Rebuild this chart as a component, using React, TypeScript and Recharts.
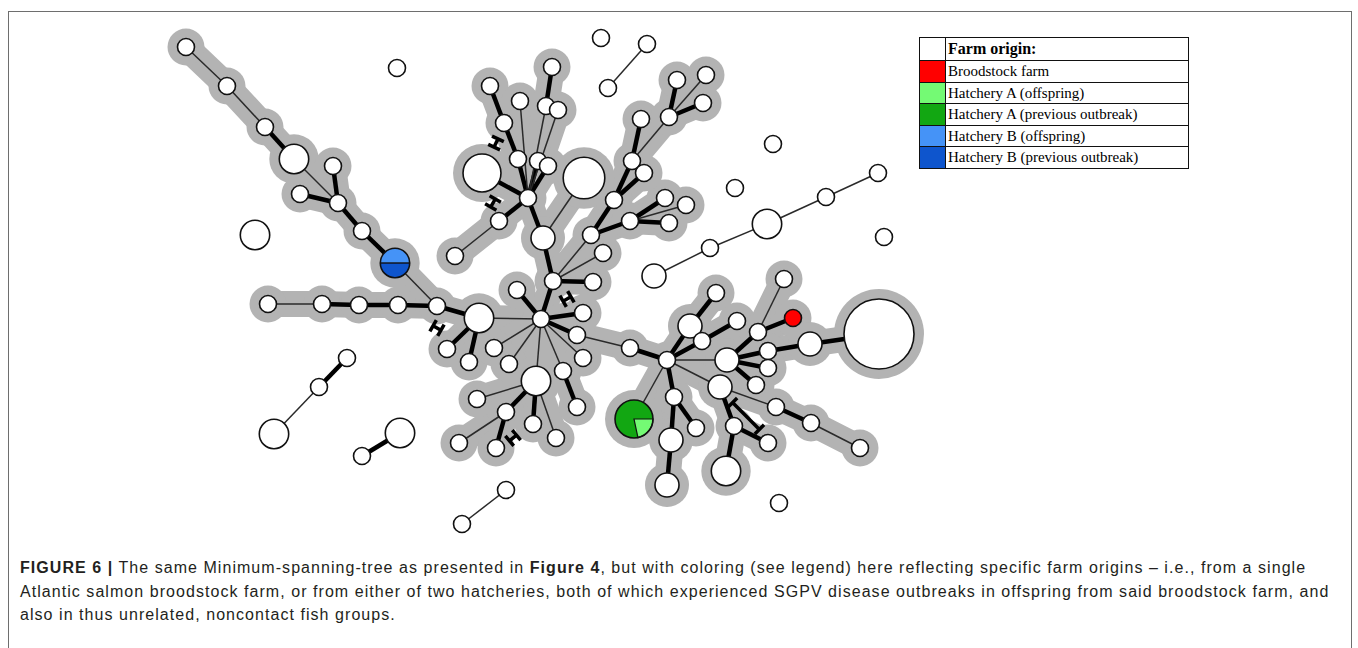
import React from "react";
import { ScatterChart, Scatter, XAxis, YAxis, ZAxis, Legend } from "recharts";

// node = [id, x, y, size (isolates), origin]
type NodeRow = [string, number, number, number, string?];

const treeNodes: NodeRow[] = [
  ["t1", 186, 47, 1], ["t2", 227, 86, 1], ["t3", 265, 127, 1], ["t4", 294, 159, 3],
  ["t5", 300, 194, 1], ["t6", 333, 166, 1], ["t7", 338, 203, 1], ["t8", 362, 231, 1],
  ["blue", 395, 263, 3, "hatchB"],
  ["l1", 268, 304, 1], ["l2", 322, 304, 1], ["l3", 359, 305, 1], ["l4", 398, 305, 1],
  ["l5", 437, 306, 1], ["l6", 479, 318, 3], ["l7", 447, 349, 1], ["l8", 469, 362, 1],
  ["h", 541, 319, 1],
  ["c1", 517, 290, 1], ["c2", 553, 281, 1], ["c3", 593, 282, 1], ["c4", 583, 313, 1],
  ["c5", 577, 335, 1], ["c6", 583, 358, 1], ["c7", 563, 371, 1], ["c8", 494, 348, 1],
  ["c9", 509, 364, 1], ["c10", 630, 348, 1],
  ["d1", 536, 381, 3], ["d2", 477, 399, 1], ["d3", 506, 412, 1], ["d4", 459, 443, 1],
  ["d5", 496, 448, 1], ["d6", 533, 424, 1], ["d7", 556, 438, 1], ["d8", 577, 407, 1],
  ["u1", 543, 238, 2], ["u2", 528, 198, 1], ["u3", 499, 221, 1], ["u4", 455, 256, 1],
  ["u5", 482, 173, 5], ["u6", 584, 178, 6], ["u7", 518, 159, 1], ["u8", 538, 161, 1],
  ["u9", 548, 166, 1], ["u10", 504, 123, 1], ["u11", 490, 86, 1], ["u12", 520, 101, 1],
  ["u13", 546, 106, 1], ["u14", 558, 110, 1], ["u15", 552, 67, 1],
  ["v1", 591, 235, 1], ["v2", 603, 253, 1], ["v3", 614, 200, 1], ["v4", 630, 221, 1],
  ["v5", 665, 198, 1], ["v6", 686, 205, 1], ["v7", 669, 223, 1], ["v8", 632, 161, 1],
  ["v9", 644, 173, 1], ["v10", 641, 119, 1], ["v11", 669, 117, 1], ["v12", 677, 80, 1],
  ["v13", 706, 75, 1], ["v14", 703, 103, 1],
  ["r0", 667, 360, 1], ["r1", 690, 326, 2], ["r2", 702, 341, 1], ["r3", 716, 293, 1],
  ["r4", 737, 321, 1], ["r5", 727, 360, 2], ["r6", 758, 332, 1], ["r7", 793, 318, 1, "brood"],
  ["r8", 784, 279, 1], ["r9", 768, 351, 1], ["r10", 810, 344, 2], ["r11", 879, 334, 17],
  ["r12", 768, 368, 1], ["r13", 756, 385, 1], ["r14", 720, 387, 2], ["r15", 776, 407, 1],
  ["r16", 811, 423, 1], ["r17", 860, 448, 1], ["r18", 734, 426, 1], ["r19", 768, 443, 1],
  ["r20", 726, 471, 3], ["r21", 674, 397, 1], ["r22", 671, 440, 2], ["r23", 667, 485, 2],
  ["r24", 696, 428, 1], ["green", 634, 419, 5, "hatchA"],
];

const looseNodes: NodeRow[] = [
  ["s1", 608, 88, 1], ["s2", 647, 44, 1], ["s3", 654, 276, 2], ["s4", 710, 248, 1],
  ["s5", 767, 224, 3], ["s6", 826, 197, 1], ["s7", 878, 173, 1], ["s8", 347, 358, 1],
  ["s9", 319, 387, 1], ["s10", 274, 434, 3], ["s11", 400, 433, 3], ["s12", 362, 456, 1],
  ["s13", 506, 490, 1], ["s14", 462, 524, 1],
  ["o1", 397, 68, 1], ["o2", 255, 235, 3], ["o3", 601, 38, 1], ["o4", 773, 144, 1],
  ["o5", 735, 188, 1], ["o6", 884, 237, 1], ["o7", 779, 503, 1],
];

// edge = [from, to, "t" short/thick | "n" long/thin]
const treeEdges: [string, string, string][] = [
  ["t1", "t2", "n"], ["t2", "t3", "n"], ["t3", "t4", "t"], ["t4", "t7", "n"], ["t7", "t5", "t"],
  ["t7", "t6", "t"], ["t7", "t8", "t"], ["t8", "blue", "t"], ["blue", "l5", "n"],
  ["l1", "l2", "n"], ["l2", "l3", "t"], ["l3", "l4", "t"], ["l4", "l5", "t"], ["l5", "l6", "t"],
  ["l6", "l7", "t"], ["l6", "l8", "t"], ["l6", "h", "n"],
  ["h", "c1", "t"], ["h", "c2", "t"], ["c2", "c3", "t"], ["h", "c4", "t"], ["h", "c5", "t"],
  ["c5", "c10", "n"], ["h", "c6", "n"], ["h", "c7", "n"], ["h", "c8", "n"], ["h", "c9", "n"],
  ["h", "d1", "n"],
  ["d1", "d2", "n"], ["d1", "d3", "t"], ["d3", "d4", "n"], ["d3", "d5", "t"], ["d1", "d6", "t"],
  ["d1", "d7", "n"], ["c7", "d8", "t"],
  ["c2", "u1", "t"], ["u1", "u2", "t"], ["u1", "u6", "n"], ["u2", "u3", "t"], ["u3", "u4", "n"],
  ["u2", "u5", "t"], ["u2", "u7", "t"], ["u2", "u8", "t"], ["u2", "u9", "t"], ["u7", "u10", "t"],
  ["u10", "u11", "t"], ["u2", "u12", "n"], ["u2", "u13", "n"], ["u2", "u14", "n"], ["u13", "u15", "t"],
  ["c2", "v1", "n"], ["c2", "v2", "n"], ["v1", "v3", "t"], ["v1", "v4", "t"], ["v4", "v5", "t"],
  ["v4", "v6", "n"], ["v4", "v7", "t"], ["v3", "v8", "t"], ["v3", "v9", "t"], ["v8", "v10", "t"],
  ["v8", "v11", "n"], ["v11", "v12", "t"], ["v11", "v13", "n"], ["v11", "v14", "t"],
  ["c10", "r0", "t"], ["r0", "r1", "t"], ["r0", "r2", "t"], ["r1", "r3", "t"], ["r2", "r4", "t"],
  ["r0", "r5", "n"], ["r5", "r6", "t"], ["r6", "r7", "t"], ["r6", "r8", "n"], ["r5", "r9", "t"],
  ["r9", "r10", "t"], ["r10", "r11", "t"], ["r5", "r12", "t"], ["r5", "r13", "t"], ["r0", "r14", "n"],
  ["r14", "r15", "n"], ["r15", "r16", "t"], ["r16", "r17", "n"], ["r14", "r18", "t"],
  ["r18", "r19", "t"], ["r18", "r20", "t"], ["r0", "r21", "t"], ["r21", "r22", "t"],
  ["r22", "r23", "t"], ["r21", "r24", "t"], ["r0", "green", "n"],
];

const looseEdges: [string, string, string][] = [
  ["s1", "s2", "n"], ["s3", "s4", "n"], ["s4", "s5", "n"], ["s5", "s6", "n"], ["s6", "s7", "n"],
  ["s8", "s9", "t"], ["s9", "s10", "n"], ["s11", "s12", "t"], ["s13", "s14", "n"],
];

// hatch marks for shortened branches: [x, y, angle, length]
const hatchMarks: [number, number, number, number][] = [
  [496, 143, -65, 9], [493, 203, -60, 9], [567, 299, -30, 9],
  [437, 328, 30, 9], [513, 438, -40, 9], [746, 416, 45, 38],
];

const legendItems = [
  { label: "Broodstock farm", color: "#ff0000" },
  { label: "Hatchery A (offspring)", color: "#74fa74" },
  { label: "Hatchery A (previous outbreak)", color: "#12a712" },
  { label: "Hatchery B (offspring)", color: "#4593f7" },
  { label: "Hatchery B (previous outbreak)", color: "#0e55cd" },
];

const captionLines = [
  [
    ["FIGURE 6 |", true],
    [" The same Minimum-spanning-tree as presented in ", false],
    ["Figure 4", true],
    [", but with coloring (see legend) here reflecting specific farm origins \u2013 i.e., from a single", false],
  ],
  [["Atlantic salmon broodstock farm, or from either of two hatcheries, both of which experienced SGPV disease outbreaks in offspring from said broodstock farm, and", false]],
  [["also in thus unrelated, noncontact fish groups.", false]],
] as [string, boolean][][];

const HALO = "#b3b3b3";

const toPoint = (n: NodeRow) => ({ id: n[0], x: n[1], y: n[2], z: n[3], origin: n[4] });
const treePoints = treeNodes.map(toPoint);
const loosePoints = looseNodes.map(toPoint);
const allPoints = [...treePoints, ...loosePoints];
const byId: Record<string, { x: number; y: number }> = {};
allPoints.forEach((p) => (byId[p.id] = p));

const edgeData = (e: [string, string, string]) => [
  { x: byId[e[0]].x, y: byId[e[0]].y },
  { x: byId[e[1]].x, y: byId[e[1]].y },
];

const Empty = () => <g />;

const NodeShape = (props: any) => {
  const { cx, cy, width, payload } = props;
  const r = width / 2;
  if (payload.origin === "hatchB") {
    return (
      <g>
        <path d={`M${cx - r},${cy} A${r},${r} 0 0 1 ${cx + r},${cy} Z`} fill="#4593f7" />
        <path d={`M${cx - r},${cy} A${r},${r} 0 0 0 ${cx + r},${cy} Z`} fill="#0e55cd" />
        <line x1={cx - r} y1={cy} x2={cx + r} y2={cy} stroke="#111" strokeWidth={1.4} />
        <circle cx={cx} cy={cy} r={r} fill="none" stroke="#111" strokeWidth={1.6} />
      </g>
    );
  }
  if (payload.origin === "hatchA") {
    const a = (78 * Math.PI) / 180;
    const ex = cx + r * Math.cos(a);
    const ey = cy + r * Math.sin(a);
    return (
      <g>
        <circle cx={cx} cy={cy} r={r} fill="#12a712" />
        <path d={`M${cx},${cy} L${cx + r},${cy} A${r},${r} 0 0 1 ${ex},${ey} Z`} fill="#74fa74" stroke="#111" strokeWidth={1.2} />
        <circle cx={cx} cy={cy} r={r} fill="none" stroke="#111" strokeWidth={1.6} />
      </g>
    );
  }
  const fill = payload.origin === "brood" ? "#ff0000" : "#ffffff";
  return <circle cx={cx} cy={cy} r={r} fill={fill} stroke="#111" strokeWidth={1.6} />;
};

const HaloShape = (props: any) => {
  const { cx, cy, width } = props;
  return <circle cx={cx} cy={cy} r={width / 2 + 10} fill={HALO} />;
};

const HatchShape = (props: any) => {
  const { cx, cy, payload } = props;
  const h = payload.len / 2;
  return (
    <g transform={`translate(${cx},${cy}) rotate(${payload.angle})`}>
      <path d={`M${-h},0 H${h} M${-h},-6.5 V6.5 M${h},-6.5 V6.5`} stroke="#000" strokeWidth={3.5} fill="none" />
    </g>
  );
};

const hatchData = hatchMarks.map((m) => ({ x: m[0], y: m[1], angle: m[2], len: m[3] }));

const LegendTable = () => (
  <table
    style={{
      borderCollapse: "collapse",
      fontFamily: "'Liberation Serif', serif",
      fontSize: 15,
      color: "#000",
      border: "1.5px solid #111",
    }}
  >
    <tbody>
      <tr style={{ height: 23 }}>
        <td style={{ width: 25, border: "1.5px solid #111", padding: 0 }} />
        <td style={{ border: "1.5px solid #111", padding: "0 2px", fontWeight: "bold", fontSize: 16, lineHeight: "18px" }}>
          Farm origin:
        </td>
      </tr>
      {legendItems.map((it) => (
        <tr key={it.label} style={{ height: 21.5 }}>
          <td style={{ width: 25, background: it.color, border: "1.5px solid #111", padding: 0 }} />
          <td style={{ border: "1.5px solid #111", padding: "0 2px", width: 238, lineHeight: "18px", whiteSpace: "nowrap" }}>
            {it.label}
          </td>
        </tr>
      ))}
    </tbody>
  </table>
);

export default function App() {
  const W = 1358;
  const H = 648;
  return (
    <div style={{ position: "absolute", left: 0, top: 0, width: W, height: H, overflow: "hidden", background: "#fff" }}>
      <div
        style={{
          position: "absolute",
          left: 8,
          top: 11,
          width: 1344,
          height: 660,
          border: "1px solid #6e6e6e",
          boxSizing: "border-box",
        }}
      />
      <div style={{ position: "absolute", left: 0, top: 0 }}>
        <ScatterChart width={W} height={H} margin={{ top: 0, right: 0, bottom: 0, left: 0 }}>
          <XAxis type="number" dataKey="x" domain={[0, W]} hide allowDataOverflow />
          <YAxis type="number" dataKey="y" domain={[0, H]} reversed hide allowDataOverflow />
          <ZAxis type="number" dataKey="z" domain={[0, 17]} range={[0, Math.PI * 35 * 35]} />
          {treeEdges.map((e, i) => (
            <Scatter
              key={`halo-${i}`}
              data={edgeData(e)}
              line={{ stroke: HALO, strokeWidth: 26, strokeLinecap: "round" }}
              shape={Empty}
              isAnimationActive={false}
            />
          ))}
          <Scatter data={treePoints} shape={HaloShape} isAnimationActive={false} />
          {[...treeEdges, ...looseEdges].map((e, i) => (
            <Scatter
              key={`edge-${i}`}
              data={edgeData(e)}
              line={
                e[2] === "t"
                  ? { stroke: "#000", strokeWidth: 4.5 }
                  : { stroke: "#2a2a2a", strokeWidth: 1.5 }
              }
              shape={Empty}
              isAnimationActive={false}
            />
          ))}
          <Scatter data={allPoints} shape={NodeShape} isAnimationActive={false} />
          <Scatter data={hatchData} shape={HatchShape} isAnimationActive={false} />
          <Legend
            layout="vertical"
            align="center"
            verticalAlign="middle"
            wrapperStyle={{ left: 919, top: 37, width: "auto", height: "auto" }}
            content={() => <LegendTable />}
          />
        </ScatterChart>
      </div>
      <div
        style={{
          position: "absolute",
          left: 20,
          top: 556,
          fontFamily: "'Liberation Sans', Arial, sans-serif",
          fontSize: 16,
          letterSpacing: 1.05,
          lineHeight: "23.5px",
          color: "#231f20",
          whiteSpace: "nowrap",
        }}
      >
        {captionLines.map((line, i) => (
          <div key={i}>
            {line.map(([txt, bold], j) => (
              <span key={j} style={{ fontWeight: bold ? "bold" : "normal" }}>
                {txt}
              </span>
            ))}
          </div>
        ))}
      </div>
    </div>
  );
}
